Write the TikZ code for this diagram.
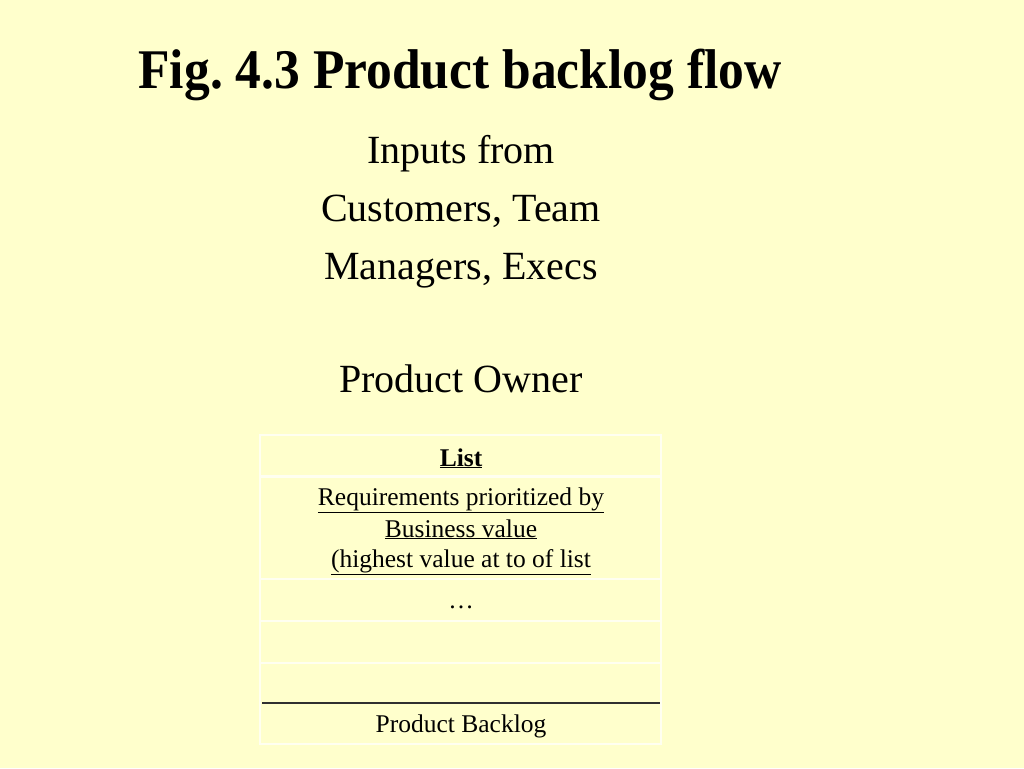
\documentclass[tikz,border=0pt]{standalone}
\usepackage{fontspec}
\setmainfont{Liberation Serif}
\frenchspacing
\definecolor{bg}{HTML}{FFFFCC}
\definecolor{faint}{HTML}{FFFFF0}
\definecolor{dark}{HTML}{303030}
\begin{document}
\begin{tikzpicture}[x=1pt,y=-1pt,
  title/.style={anchor=base,inner sep=0pt,xscale=0.92,font=\fontsize{56}{60}\selectfont\bfseries},
  big/.style={anchor=base,inner sep=0pt,font=\fontsize{40}{46}\selectfont},
  small/.style={anchor=base,inner sep=0pt,font=\fontsize{25.5}{30}\selectfont},
  cellline/.style={draw=faint,line width=2pt}]
\fill[bg] (0,0) rectangle (1024,768);
\useasboundingbox (0,0) rectangle (1024,768);
\node[title] (t) at (460,88) {Fig. 4.3 Product backlog flow};
\node[big] (l1) at (461,163) {Inputs from};
\node[big] (l2) at (461,221) {Customers, Team};
\node[big] (l3) at (461,279) {Managers, Execs};
\node[big] (po) at (461,392) {Product Owner};
% table
\draw[cellline] (260,435) rectangle (661,744);
\draw[cellline,line width=3pt] (260,476) -- (661,476);
\draw[cellline] (260,579) -- (661,579);
\draw[cellline] (260,621) -- (661,621);
\draw[cellline] (260,663) -- (661,663);
\draw[draw=dark,line width=2pt] (262,703) -- (660,703);
\node[small,font=\fontsize{25.5}{30}\selectfont\bfseries] (list) at (461,466) {\underline{List}};
\node[small] (r1) at (461,505) {\underline{Requirements prioritized by}};
\node[small] (r2) at (461,537) {\underline{Business value}};
\node[small] (r3) at (461,567) {\underline{(highest value at to of list}};
\node[small] (dots) at (461,608) {\ldots};
\node[small] (pb) at (461,732) {Product Backlog};
\end{tikzpicture}
\end{document}
